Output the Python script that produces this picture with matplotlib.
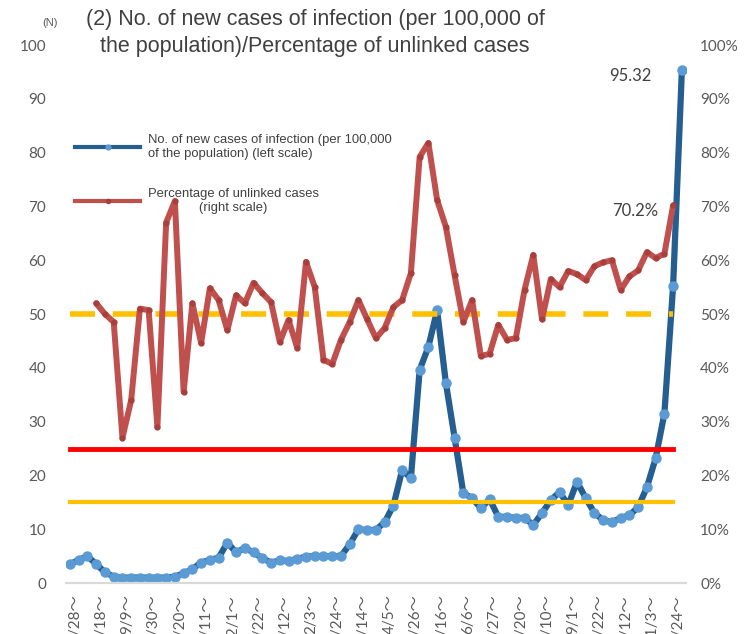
import numpy as np
import matplotlib.pyplot as plt
from matplotlib.lines import Line2D
from matplotlib.transforms import ScaledTranslation

# start dates of every 3rd week (x axis)
tick_labels = ['7/28～', '8/18～', '9/9～', '9/30～', '10/20～', '11/11～', '12/1～', '12/22～',
               '1/12～', '2/3～', '2/24～', '3/14～', '4/5～', '4/26～', '5/16～', '6/6～',
               '6/27～', '7/20～', '8/10～', '9/1～', '9/22～', '10/12～', '11/3～', '11/24～']

# new cases per 100,000 of the population (left scale)
new_cases = [3.5, 4.3, 5.0, 3.5, 2.0, 1.2, 1.0, 1.0, 1.0, 1.0, 1.0, 1.0, 1.2, 1.8, 2.6,
             3.8, 4.3, 4.7, 7.5, 5.7, 6.5, 5.7, 4.6, 3.8, 4.2, 4.1, 4.5, 4.9, 5.0, 5.0,
             5.0, 5.0, 7.2, 10.0, 9.8, 9.9, 11.3, 14.4, 21.0, 19.5, 39.6, 43.9, 50.7, 37.2,
             27.0, 16.7, 15.8, 13.9, 15.6, 12.3, 12.3, 12.1, 12.1, 10.8, 13.0, 15.4, 16.9,
             14.5, 18.8, 15.8, 13.0, 11.7, 11.3, 12.1, 12.6, 14.1, 17.8, 23.2, 31.5, 55.3,
             95.32]

# percentage of unlinked cases (right scale)
nan = np.nan
unlinked = [nan, nan, nan, 52.0, 50.0, 48.5, 27.0, 34.0, 51.0, 50.7, 29.0, 67.0, 71.0,
            35.5, 52.0, 44.6, 54.8, 52.6, 47.0, 53.5, 52.0, 55.8, 53.9, 52.2, 44.8, 48.9,
            43.7, 59.7, 55.0, 41.5, 40.7, 45.2, 48.5, 52.6, 49.0, 45.5, 47.4, 51.3, 52.6,
            57.6, 79.2, 81.8, 71.2, 66.2, 57.2, 48.5, 52.6, 42.2, 42.6, 48.0, 45.2, 45.5,
            54.5, 61.0, 49.0, 56.5, 55.0, 58.0, 57.4, 56.3, 58.9, 59.6, 60.0, 54.5, 57.0,
            58.1, 61.5, 60.4, 61.2, 70.2, nan]

# reference levels
dashed_level = 50
red_level = 25
yellow_level = 15

TICK_FONT = ['Lato', 'Noto Sans CJK JP']
TEXT_FONT = 'Liberation Sans'
GREY = '#595959'

x = np.arange(len(new_cases))
unlinked = np.array(unlinked)
last_red = np.where(~np.isnan(unlinked))[0].max()
span = x[:last_red + 1]

fig = plt.figure(figsize=(7.5, 6.34), dpi=100)
ax = fig.add_axes([0.0875, 0.0804, 0.8275, 0.8486])
ax2 = ax.twinx()

ax.plot(x, new_cases, color='#255E91', lw=4.5, marker='o', ms=6.5,
        mfc='#5B9BD5', mec='#5B9BD5', solid_joinstyle='round', solid_capstyle='round')

ax2.plot(span, [dashed_level] * len(span), color='#FFC000', lw=4,
         linestyle=(0, (4.5, 3.2)), zorder=1)
ax2.plot(span, [red_level] * len(span), color='#FF0000', lw=3.5, zorder=1)
ax2.plot(span, [yellow_level] * len(span), color='#FFC000', lw=3, zorder=1)
ax2.plot(x, unlinked, color='#C0504D', lw=4.3, marker='o', ms=3.5,
         mfc='#A93F3C', mec='#A93F3C', solid_joinstyle='round', solid_capstyle='round',
         zorder=3)

for a in (ax, ax2):
    a.set_xlim(-0.5, len(x) - 0.5)
    a.set_ylim(0, 100)
    for s in a.spines.values():
        s.set_visible(False)
    a.spines['bottom'].set_visible(True)
    a.spines['bottom'].set_color('#D9D9D9')
    a.spines['bottom'].set_linewidth(1.5)

ax.set_yticks(range(0, 101, 10))
ax.tick_params(axis='y', length=0, pad=14, labelsize=11, labelcolor=GREY)
ax2.set_yticks(range(0, 101, 10))
ax2.set_yticklabels([f'{v}%' for v in range(0, 101, 10)])
ax2.tick_params(axis='y', length=0, pad=10, labelsize=11, labelcolor=GREY)
for lab in ax.get_yticklabels() + ax2.get_yticklabels():
    lab.set_fontfamily(TICK_FONT)

ax.set_xticks(x[::3])
ax.set_xticklabels(tick_labels, rotation=90, fontsize=11, color=GREY, family=TICK_FONT)
ax.tick_params(axis='x', length=0, pad=8)
shift = ScaledTranslation(5 / 100, 0, fig.dpi_scale_trans)
for lab in ax.get_xticklabels():
    lab.set_transform(lab.get_transform() + shift)

# end-point labels
ax.annotate(f'{new_cases[-1]:.2f}', xy=(x[-1], new_cases[-1]), xytext=(-22, -4),
            textcoords='offset points', ha='right', va='center', fontsize=12,
            color='#404040', family=TICK_FONT)
ax2.annotate(f'{unlinked[last_red]:.1f}%', xy=(x[last_red], unlinked[last_red]),
             xytext=(-11, -4), textcoords='offset points', ha='right', va='center',
             fontsize=12, color='#404040', family=TICK_FONT)

handles = [
    Line2D([], [], color='#255E91', lw=3, marker='o', ms=3.5, mfc='#5B9BD5', mec='#5B9BD5'),
    Line2D([], [], color='#C0504D', lw=3, marker='o', ms=3, mfc='#A93F3C', mec='#A93F3C'),
]
labels = ['No. of new cases of infection (per 100,000\nof the population) (left scale)',
          'Percentage of unlinked cases\n(right scale)']
leg = ax2.legend(handles, labels, loc='upper left', bbox_to_anchor=(0.015, 0.835),
                 frameon=False, borderpad=0, borderaxespad=0, handlelength=5,
                 handletextpad=0.6, labelspacing=2.2, numpoints=1,
                 prop={'family': TEXT_FONT, 'size': 9.4})
for t in leg.get_texts():
    t.set_color('#404040')
leg.get_texts()[1].set_multialignment('center')

fig.text(0.42, 0.986, '(2) No. of new cases of infection (per 100,000 of\n'
         'the population)/Percentage of unlinked cases',
         ha='center', va='top', fontsize=15.5, color='#404040', family=TEXT_FONT,
         linespacing=1.4)
fig.text(0.067, 0.963, '(N)', ha='center', va='center', fontsize=8, color=GREY,
         family=TEXT_FONT)

fig.savefig('out.png', dpi=100)
